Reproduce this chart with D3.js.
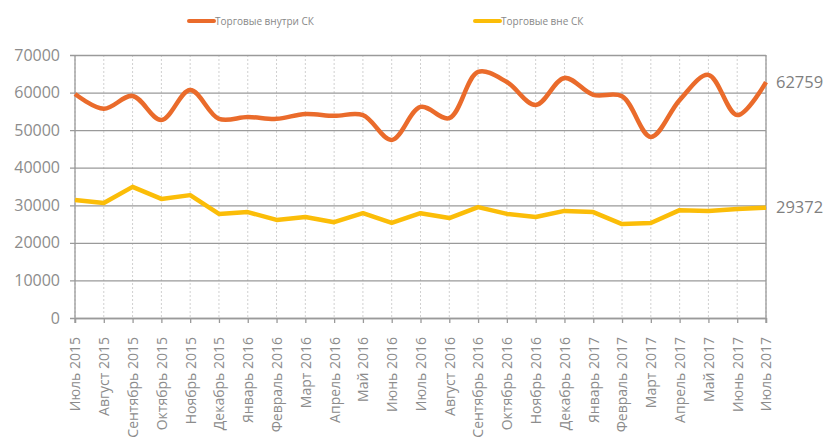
<!DOCTYPE html>
<html>
<head>
<meta charset="utf-8">
<script src="https://cdn.jsdelivr.net/npm/d3@7"></script>
<style>
  html, body { margin: 0; padding: 0; background: #fff; }
  svg { display: block; }
</style>
</head>
<body>
<svg id="chart" width="830" height="446"></svg>
<script>
// Monthly categories
const months = [
  "Июль 2015", "Август 2015", "Сентябрь 2015", "Октябрь 2015", "Ноябрь 2015",
  "Декабрь 2015", "Январь 2016", "Февраль 2016", "Март 2016", "Апрель 2016",
  "Май 2016", "Июнь 2016", "Июль 2016", "Август 2016", "Сентябрь 2016",
  "Октябрь 2016", "Ноябрь 2016", "Декабрь 2016", "Январь 2017", "Февраль 2017",
  "Март 2017", "Апрель 2017", "Май 2017", "Июнь 2017", "Июль 2017"
];

// Trades inside the exchange (smoothed line)
const insideValues = [
  59600, 55700, 59100, 52700, 60700, 53000, 53500, 53000, 54300, 53800,
  54000, 47400, 56200, 53200, 65500, 62800, 56700, 63900, 59400, 59000,
  48200, 58000, 64700, 54000, 62759
];

// Trades outside the exchange
const outsideValues = [
  31400, 30600, 34900, 31700, 32700, 27700, 28200, 26100, 26900, 25500,
  27900, 25300, 27900, 26600, 29500, 27700, 26900, 28500, 28200, 25000,
  25300, 28700, 28500, 29000, 29372
];

const seriesNames = ["Торговые внутри СК", "Торговые вне СК"];
const yTicks = [0, 10000, 20000, 30000, 40000, 50000, 60000, 70000];

const colors = { inside: "#EA6B2B", outside: "#FBBD08" };
const textColor = "#8c8c8c";
const fontFamily = "'Open Sans', 'Liberation Sans', sans-serif";

const margin = { left: 75, right: 64, top: 55, bottom: 128 };
const width = 830, height = 446;
const plotW = width - margin.left - margin.right;
const plotH = height - margin.top - margin.bottom;

const svg = d3.select("#chart");

const x = d3.scalePoint().domain(months).range([0, plotW]);
const y = d3.scaleLinear().domain([0, 70000]).range([plotH, 0]);

const g = svg.append("g").attr("transform", `translate(${margin.left},${margin.top})`);

// Vertical dotted gridlines at each month
g.append("g")
  .selectAll("line")
  .data(months)
  .join("line")
  .attr("x1", d => x(d)).attr("x2", d => x(d))
  .attr("y1", 0).attr("y2", plotH)
  .attr("stroke", "#d0d0d0")
  .attr("stroke-width", 1)
  .attr("stroke-dasharray", "2,2");

// Horizontal gridlines and y-axis labels
const yAxis = d3.axisLeft(y)
  .tickValues(yTicks)
  .tickSize(-plotW)
  .tickPadding(15)
  .tickFormat(d3.format("d"));

const yG = g.append("g").call(yAxis);
yG.select(".domain").remove();
yG.selectAll(".tick line")
  .attr("x1", -5)
  .attr("stroke", "#9a9a9a")
  .attr("stroke-width", 1.3);
yG.selectAll(".tick text")
  .attr("fill", textColor)
  .style("font-family", fontFamily)
  .style("font-size", "16px");

// Left and right frame lines
g.append("line")
  .attr("x1", 0).attr("x2", 0).attr("y1", 0).attr("y2", plotH + 5)
  .attr("stroke", "#9a9a9a").attr("stroke-width", 1.3);
g.append("line")
  .attr("x1", plotW).attr("x2", plotW).attr("y1", 0).attr("y2", plotH + 5)
  .attr("stroke", "#9a9a9a").attr("stroke-width", 1.3);

// Bottom axis with rotated month labels
const xAxis = d3.axisBottom(x).tickSize(5).tickPadding(6);
const xG = g.append("g").attr("transform", `translate(0,${plotH})`).call(xAxis);
xG.select(".domain").attr("stroke", "#9a9a9a").attr("stroke-width", 1.3);
xG.selectAll(".tick line").attr("stroke", "#9a9a9a").attr("stroke-width", 1.3);
xG.selectAll(".tick text")
  .attr("fill", textColor)
  .style("font-family", fontFamily)
  .style("font-size", "14px")
  .attr("text-anchor", "end")
  .attr("transform", "rotate(-90)")
  .attr("x", -19)
  .attr("y", 0)
  .attr("dy", "0.35em");

// Series lines
const lineInside = d3.line()
  .x((d, i) => x(months[i]))
  .y(d => y(d))
  .curve(d3.curveCatmullRom.alpha(0.5));

const lineOutside = d3.line()
  .x((d, i) => x(months[i]))
  .y(d => y(d));

g.append("path")
  .datum(outsideValues)
  .attr("fill", "none")
  .attr("stroke", colors.outside)
  .attr("stroke-width", 4.5)
  .attr("stroke-linejoin", "round")
  .attr("d", lineOutside);

g.append("path")
  .datum(insideValues)
  .attr("fill", "none")
  .attr("stroke", colors.inside)
  .attr("stroke-width", 4.5)
  .attr("stroke-linejoin", "round")
  .attr("d", lineInside);

// End-value labels
const endLabels = [
  { v: insideValues[insideValues.length - 1] },
  { v: outsideValues[outsideValues.length - 1] }
];
g.selectAll(".end-label")
  .data(endLabels)
  .join("text")
  .attr("class", "end-label")
  .attr("x", plotW + 10)
  .attr("y", d => y(d.v))
  .attr("dy", "0.35em")
  .attr("fill", "#7f7f7f")
  .style("font-family", fontFamily)
  .style("font-size", "16.5px")
  .text(d => d.v);

// Legend
const legendItems = [
  { name: seriesNames[0], color: colors.inside, x: 189 },
  { name: seriesNames[1], color: colors.outside, x: 475 }
];
const legend = svg.append("g");
const li = legend.selectAll("g").data(legendItems).join("g")
  .attr("transform", d => `translate(${d.x},21)`);
li.append("line")
  .attr("x1", 0).attr("x2", 25).attr("y1", 0).attr("y2", 0)
  .attr("stroke", d => d.color)
  .attr("stroke-width", 4)
  .attr("stroke-linecap", "round");
li.append("text")
  .attr("x", 26).attr("y", 0).attr("dy", "0.35em")
  .attr("fill", "#888")
  .style("font-family", fontFamily)
  .style("font-size", "10px")
  .text(d => d.name);
</script>
</body>
</html>
